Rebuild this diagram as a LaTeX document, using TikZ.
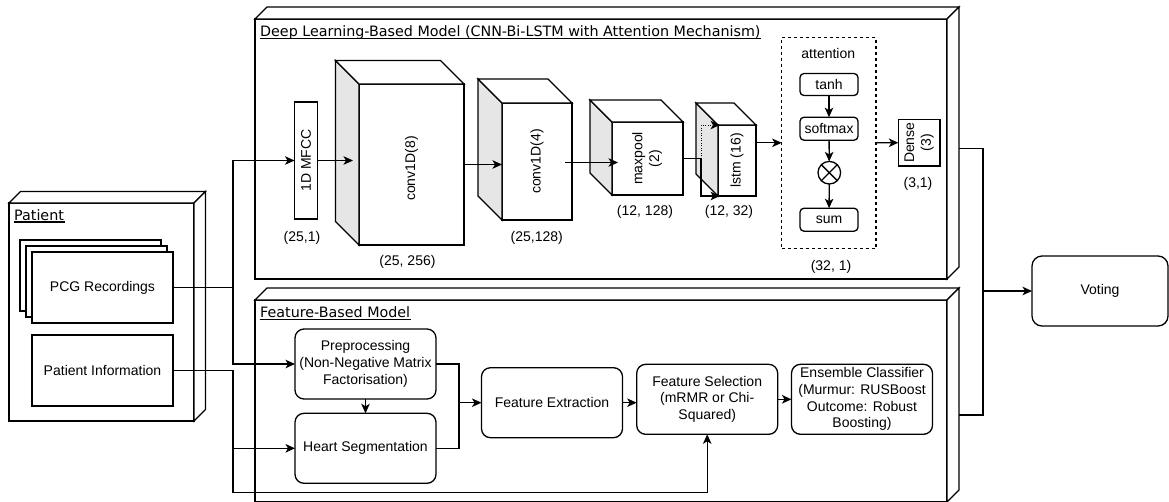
\documentclass[tikz,border=0pt]{standalone}
\usepackage{fontspec}
\setmainfont{Liberation Sans}
\newfontfamily\titlefont{DejaVu Sans}
\usepackage{graphicx}
\usetikzlibrary{arrows.meta,calc}
\definecolor{sidegray}{HTML}{E6E6E6}
\newcommand\mybox[2]{%
  \filldraw[fill=white] (#1.north west) -- ++(#2,-#2) -- ($(#1.north east)+(#2,-#2)$) -- (#1.north east) -- cycle;
  \filldraw[fill=white] (#1.north east) -- ++(#2,-#2) -- ($(#1.south east)+(#2,-#2)$) -- (#1.south east) -- cycle;}
\newcommand\mycube[2]{%
  \filldraw[fill=sidegray] (#1.north west) -- ++(-#2,-#2) -- ($(#1.south west)+(-#2,-#2)$) -- (#1.south west) -- cycle;
  \filldraw[fill=white] (#1.north west) -- ++(-#2,-#2) -- ($(#1.north east)+(-#2,-#2)$) -- (#1.north east) -- cycle;}
\begin{document}
\begin{tikzpicture}[x=1pt,y=-1pt,line width=1.3pt,line join=miter,
  font=\fontsize{14}{16.7}\selectfont,
  arr/.style={-{Stealth[length=9.5pt,width=8.5pt,inset=2.5pt]}},
  plain/.style={draw,fill=white,outer sep=0pt,inner sep=0pt},
  rbox/.style={plain,rounded corners=9pt,align=center,minimum width=141pt,minimum height=70pt},
  sbox/.style={plain,rounded corners=4pt,minimum width=58pt,minimum height=23pt},
  dim/.style={inner sep=0pt},
  ttl/.style={inner sep=0pt,font=\titlefont\fontsize{14.3}{16}\selectfont},
  uline/.style={line width=1.1pt},
  dots/.style={line width=1pt,dash pattern=on 1pt off 1.5pt}]
\useasboundingbox (0,0) rectangle (1169,501);

% ---------- big 3D boxes ----------
\node[plain,minimum width=692pt,minimum height=260pt,anchor=north west] (dl) at (255,19) {};
\mybox{dl}{12}
\node[ttl,anchor=base west] (dlt) at (259.5,36.5) {Deep Learning-Based Model (CNN-Bi-LSTM with Attention Mechanism)};
\draw[uline] ([yshift=-2pt]dlt.base west) -- ([yshift=-2pt]dlt.base east);

\node[plain,minimum width=692pt,minimum height=202pt,anchor=north west] (fb) at (255,300) {};
\mybox{fb}{12}
\node[ttl,anchor=base west] (fbt) at (259.5,317.7) {Feature-Based Model};
\draw[uline] ([yshift=-2pt]fbt.base west) -- ([yshift=-2pt]fbt.base east);

\node[plain,minimum width=185pt,minimum height=218pt,anchor=north west] (pat) at (9,203) {};
\mybox{pat}{11.5}
\node[ttl,anchor=base west] (patt) at (13.5,220) {Patient};
\draw[uline] ([yshift=-2pt]patt.base west) -- ([yshift=-2pt]patt.base east);

% ---------- patient contents ----------
\node[plain,minimum width=141pt,minimum height=71pt] (pcgb) at (90.5,275.5) {};
\node[plain,minimum width=141pt,minimum height=71pt] (pcga) at (96.5,281.5) {};
\node[plain,minimum width=141pt,minimum height=71pt] (pcg) at (102.5,287.5) {PCG Recordings};
\node[plain,minimum width=141pt,minimum height=71pt] (pi) at (102.5,370.5) {Patient Information};

% ---------- deep learning layers ----------
\node[plain,minimum width=23pt,minimum height=117pt] (mfcc) at (306,160.5) {\rotatebox{90}{1D MFCC}};
\node[plain,minimum width=105pt,minimum height=161pt] (c8) at (411.5,164.5) {};
\mycube{c8}{23.5}
\node[inner sep=0pt] (c8t) at ($(c8.center)+(0,4)$) {\rotatebox{90}{conv1D(8)}};
\node[plain,minimum width=70pt,minimum height=117pt] (c4) at (537,161.5) {};
\mycube{c4}{24}
\node[inner sep=0pt] (c4t) at (c4.center) {\rotatebox{90}{conv1D(4)}};
\node[plain,minimum width=71pt,minimum height=73pt] (mp) at (647.5,158.5) {};
\mycube{mp}{22}
\node[inner sep=0pt] (mpt) at (mp.center) {\rotatebox{90}{\begin{tabular}{@{}c@{}}maxpool\\(2)\end{tabular}}};
\node[plain,minimum width=38pt,minimum height=71pt] (lstm) at (737,160.5) {};
\mycube{lstm}{22}
\node[inner sep=0pt] (lstmt) at (lstm.center) {\rotatebox{90}{lstm (16)}};

\node[draw,dash pattern=on 3pt off 3pt,minimum width=94.3pt,minimum height=211pt,outer sep=0pt] (att) at (828.85,142.8) {};
\node[dim] (attl) at (828.3,53.3) {attention};
\node[sbox,minimum height=22pt] (tanh) at (829,84.5) {tanh};
\node[sbox] (soft) at (829,128.7) {softmax};
\node[plain,circle,minimum size=22.6pt] (ot) at (829.3,172.7) {};
\draw (ot.north west) -- (ot.south east);
\draw (ot.north east) -- (ot.south west);
\node[sbox] (sum) at (829,219.7) {sum};
\node[plain,minimum width=41.7pt,minimum height=46.7pt] (dense) at (919.2,142.7) {\rotatebox{90}{\begin{tabular}{@{}c@{}}Dense\\(3)\end{tabular}}};

% dimension labels
\node[dim] (l1) at (302,238.3) {(25,1)};
\node[dim] (l2) at (407.5,261.7) {(25, 256)};
\node[dim] (l3) at (536.7,238.3) {(25,128)};
\node[dim] (l4) at (645,212) {(12, 128)};
\node[dim] (l5) at (729,212.3) {(12, 32)};
\node[dim] (l6) at (831,266.7) {(32, 1)};
\node[dim] (l7) at (918,184.3) {(3,1)};

% ---------- feature based nodes ----------
\node[rbox] (pre) at (365.5,364) {Preprocessing\\(Non-Negative Matrix\\Factorisation)};
\node[rbox] (hs) at (365.5,448.3) {Heart Segmentation};
\node[rbox] (fe) at (552,402.7) {Feature Extraction};
\node[rbox] (fs) at (707.2,399.3) {Feature Selection\\(mRMR or Chi-\\Squared)};
\node[rbox] (ec) at (862,399.3) {Ensemble Classifier\\(Murmur: RUSBoost\\Outcome: Robust\\Boosting)};

\node[plain,rounded corners=10pt,minimum width=136pt,minimum height=70pt] (vote) at (1100,291) {Voting};

% ---------- connectors ----------
\coordinate (jx) at (233,0);
\coordinate (bot) at (233,492.3);
\draw (pcg.east) -- (pcg.east -| jx);
\draw[arr] (pcg.east -| jx) |- (mfcc.west);
\draw[arr] (pcg.east -| jx) |- (pre.west);
\draw[arr] (pi.east) -| (bot) -| (fs.south);
\draw[arr] (pi.east -| bot) |- (hs.west);

\draw[arr] (mfcc.east) -- ($(mfcc.east -| c8.west)+(-6,0)$);
\draw[arr] (c8.east) -- (c8.east -| c4.west);
\draw[arr] ($(c4.east)+(-7,1)$) -- ($(c4.east -| mp.west)+(6,1)$);
\coordinate (sp) at (701,158.5);
\draw (mp.east) -- (sp);
\draw[arr] (sp) |- ($(lstm.south west)+(2,0)$);
\draw[arr,dots] (sp) |- ($(lstm.north west)+(2,0)$);
\draw[arr] (lstm.east |- att.west) -- (att.west);
\draw[arr] (tanh) -- (soft);
\draw[arr] (soft) -- (ot);
\draw[arr] (ot) -- (sum);
\draw[arr] (att.east) -- (dense.west);

\coordinate (m) at (459,402.7);
\draw (pre.east) -| (m);
\draw (hs.east) -| (m);
\draw[arr] (m) -- (m -| fe.west);
\draw[arr] (pre.south) -- (pre.south |- hs.north);
\draw[arr] (fe.east) -- (fe.east -| fs.west);
\draw[arr] (fs.east) -- (ec.west);

\coordinate (dlR) at (959,148.3);
\coordinate (fbR) at (959,415);
\coordinate (vj) at (983,291);
\draw (dlR) -| (vj);
\draw (fbR) -| (vj);
\draw[arr] (vj) -- (vote.west);
\end{tikzpicture}
\end{document}
